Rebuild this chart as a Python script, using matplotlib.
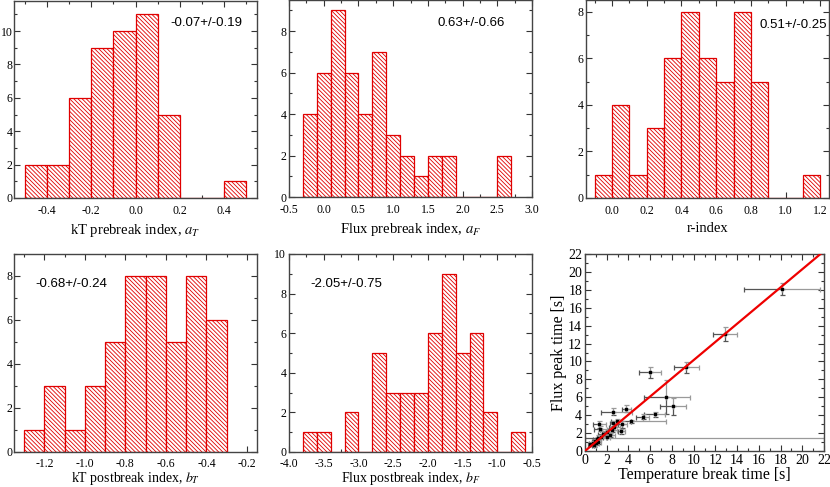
import matplotlib
matplotlib.use("Agg")
import matplotlib.pyplot as plt
import numpy as np
from matplotlib.ticker import MultipleLocator, AutoMinorLocator, FormatStrFormatter

plt.rcParams['font.family'] = ['Liberation Serif', 'DejaVu Serif']
plt.rcParams['mathtext.fontset'] = 'stix'
plt.rcParams['hatch.linewidth'] = 0.6
plt.rcParams['hatch.color'] = '#ff2020'

# ---- data ----
kt_pre_edges = [-0.5, -0.4, -0.3, -0.2, -0.1, 0.0, 0.1, 0.2, 0.3, 0.4, 0.5]
kt_pre_counts = [2, 2, 6, 9, 10, 11, 5, 0, 0, 1]

flux_pre_edges = [-0.3, -0.1, 0.1, 0.3, 0.5, 0.7, 0.9, 1.1, 1.3, 1.5, 1.7, 1.9, 2.1, 2.3, 2.5, 2.7]
flux_pre_counts = [4, 6, 9, 6, 4, 7, 3, 2, 1, 2, 2, 0, 0, 0, 2]

r_edges = [-0.1, 0.0, 0.1, 0.2, 0.3, 0.4, 0.5, 0.6, 0.7, 0.8, 0.9, 1.0, 1.1, 1.2]
r_counts = [1, 4, 1, 3, 6, 8, 6, 5, 8, 5, 0, 0, 1]

kt_post_edges = [-1.3, -1.2, -1.1, -1.0, -0.9, -0.8, -0.7, -0.6, -0.5, -0.4, -0.3]
kt_post_counts = [1, 3, 1, 3, 5, 8, 8, 5, 8, 6]

flux_post_edges = [-3.8, -3.6, -3.4, -3.2, -3.0, -2.8, -2.6, -2.4, -2.2, -2.0, -1.8, -1.6, -1.4, -1.2, -1.0, -0.8, -0.6]
flux_post_counts = [1, 1, 0, 2, 0, 5, 3, 3, 3, 6, 9, 5, 6, 2, 0, 1]

# scatter: temperature break time vs flux peak time
t_break = [18.1, 12.9, 9.3, 6.0, 7.5, 8.1, 6.4, 5.3, 3.8, 2.6, 4.2, 3.4, 3.3, 2.9, 2.6, 1.3, 1.4,
           2.7, 2.5, 2.0, 1.7, 2.3, 2.0, 1.5, 1.2, 1.1, 0.9, 1.0, 0.7, 0.5, 0.8, 1.2]
t_peak = [18.1, 13.1, 9.35, 8.8, 6.0, 5.0, 4.1, 3.85, 4.7, 4.4, 3.3, 3.0, 2.2, 3.3, 3.1, 3.0, 2.5,
          2.7, 2.4, 2.1, 1.9, 1.8, 1.6, 1.6, 1.5, 1.3, 1.1, 0.9, 0.9, 0.8, 0.7, 1.0]
t_break_err_lo = [3.5, 1.1, 1.1, 1.0, 2.1, 1.2, 1.0, 0.6, 0.4, 1.1, 1.2, 0.4, 0.3, 0.5, 0.3, 0.6, 0.6,
                  0.5, 0.4, 0.4, 0.5, 0.5, 0.3, 0.4, 1.2, 0.4, 0.3, 0.3, 0.3, 0.2, 0.2, 0.3]
t_break_err_hi = [3.5, 1.1, 1.2, 1.0, 2.2, 1.2, 1.0, 0.6, 0.4, 1.7, 3.3, 0.5, 0.4, 0.5, 0.3, 0.6, 0.6,
                  0.5, 0.4, 0.5, 0.5, 0.5, 0.3, 0.4, 20.8, 0.4, 0.3, 0.3, 0.3, 0.3, 0.2, 0.3]
t_peak_err = [0.7, 0.8, 0.6, 0.6, 1.9, 0.95, 0.25, 0.25, 0.4, 0.4, 0.2, 0.4, 0.3, 0.3, 0.3, 0.4, 0.3,
              0.3, 0.3, 0.3, 0.3, 0.2, 0.2, 0.2, 0.3, 0.3, 0.2, 0.2, 0.2, 0.2, 0.2, 0.2]
fit_slope = 1.015
fit_intercept = 0.0

W, H = 830, 487
fig = plt.figure(figsize=(W / 100, H / 100), dpi=100)


def ax_px(l, t, r, b):
    return fig.add_axes([l / W, 1 - b / H, (r - l) / W, (b - t) / H])


def style(ax, xmaj, ymaj, fs=8.5, ypad=2, xpad=5):
    ax.xaxis.set_major_locator(MultipleLocator(xmaj))
    ax.yaxis.set_major_locator(MultipleLocator(ymaj))
    ax.xaxis.set_minor_locator(AutoMinorLocator(2))
    ax.yaxis.set_minor_locator(AutoMinorLocator(2))
    ax.tick_params(which='both', direction='in', top=True, right=True,
                   labelsize=fs, colors='#333333', labelcolor='black', width=0.8)
    ax.tick_params(which='major', length=4)
    ax.tick_params(which='minor', length=2)
    ax.tick_params(axis='x', which='major', pad=xpad)
    ax.tick_params(axis='y', which='major', pad=ypad)
    for s in ax.spines.values():
        s.set_color('#444444')
        s.set_linewidth(1.0)


def hist(ax, edges, counts):
    edges = np.asarray(edges)
    ax.bar(edges[:-1], counts, width=np.diff(edges), align='edge',
           facecolor='white', edgecolor='#e00000', linewidth=0.9, hatch='\\' * 8, zorder=2)


annot_font = dict(family='Liberation Sans', fontsize=9.5)
label_fs = 10.5

# panel 1
ax = ax_px(14, 1, 257, 198)
hist(ax, kt_pre_edges, kt_pre_counts)
ax.set_xlim(-0.55, 0.55)
ax.set_ylim(0, 11.8)
style(ax, 0.2, 2, ypad=1)
ax.set_xticks([-0.4, -0.2, 0.0, 0.2, 0.4])
ax.xaxis.set_major_formatter(FormatStrFormatter('%.1f'))
ax.set_xlabel('kT prebreak index, $a_T$', fontsize=label_fs, labelpad=4)
ax.text(0.94, 0.89, '-0.07+/-0.19', transform=ax.transAxes, ha='right', va='center', **annot_font)

# panel 2
ax = ax_px(289, 0, 532, 197)
hist(ax, flux_pre_edges, flux_pre_counts)
ax.set_xlim(-0.5, 3.0)
ax.set_ylim(0, 9.5)
style(ax, 0.5, 2)
ax.xaxis.set_major_formatter(FormatStrFormatter('%.1f'))
ax.set_xlabel('Flux prebreak index, $a_F$', fontsize=label_fs, labelpad=4)
ax.text(0.89, 0.885, '0.63+/-0.66', transform=ax.transAxes, ha='right', va='center', **annot_font)

# panel 3
ax = ax_px(586, 0, 829, 198)
hist(ax, r_edges, r_counts)
ax.set_xlim(-0.15, 1.25)
ax.set_ylim(0, 8.5)
style(ax, 0.2, 2)
ax.set_xticks([0.0, 0.2, 0.4, 0.6, 0.8, 1.0, 1.2])
ax.xaxis.set_major_formatter(FormatStrFormatter('%.1f'))
ax.set_xlabel('r-index', fontsize=label_fs, labelpad=4)
ax.text(0.99, 0.875, '0.51+/-0.25', transform=ax.transAxes, ha='right', va='center', **annot_font)

# panel 4
ax = ax_px(14, 254, 257, 452)
hist(ax, kt_post_edges, kt_post_counts)
ax.set_xlim(-1.35, -0.15)
ax.set_ylim(0, 9)
style(ax, 0.2, 2, ypad=1, xpad=4)
ax.set_xticks([-1.2, -1.0, -0.8, -0.6, -0.4, -0.2])
ax.xaxis.set_major_formatter(FormatStrFormatter('%.1f'))
ax.set_xlabel('kT postbreak index, $b_T$', fontsize=10, labelpad=0)
ax.text(0.09, 0.85, '-0.68+/-0.24', transform=ax.transAxes, ha='left', va='center', **annot_font)

# panel 5
ax = ax_px(289, 254, 532, 452)
hist(ax, flux_post_edges, flux_post_counts)
ax.set_xlim(-4.0, -0.5)
ax.set_ylim(0, 10)
style(ax, 0.5, 2, xpad=4)
ax.xaxis.set_major_formatter(FormatStrFormatter('%.1f'))
ax.set_xlabel('Flux postbreak index, $b_F$', fontsize=10, labelpad=0)
ax.text(0.09, 0.85, '-2.05+/-0.75', transform=ax.transAxes, ha='left', va='center', **annot_font)

# panel 6 scatter
ax = ax_px(585, 254, 824, 451)
tb = np.asarray(t_break)
tp = np.asarray(t_peak)
lo = np.asarray(t_break_err_lo)
hi = np.asarray(t_break_err_hi)
ye = np.asarray(t_peak_err)
ax.errorbar(tb, tp, xerr=[lo, np.zeros_like(hi)], yerr=[ye, np.zeros_like(ye)], fmt='none',
            ecolor='#555555', elinewidth=0.9, capsize=1.8, capthick=0.9, zorder=2)
ax.errorbar(tb, tp, xerr=[np.zeros_like(lo), hi], yerr=[np.zeros_like(ye), ye], fmt='none',
            ecolor='#9a9a9a', elinewidth=0.9, capsize=1.8, capthick=0.9, zorder=2)
ax.plot(tb, tp, 's', color='black', markersize=1.6, zorder=3)
xf = np.array([0, 22 / fit_slope])
ax.plot(xf, fit_slope * xf + fit_intercept, color='#ee0000', linewidth=1.6, zorder=4)
ax.set_xlim(0, 22)
ax.set_ylim(0, 22)
style(ax, 2, 2, fs=10, xpad=2)
ax.set_xlabel('Temperature break time [s]', fontsize=11.5, labelpad=0)
ax.set_ylabel('Flux peak time [s]', fontsize=11.5, labelpad=1)

fig.savefig('out.png', dpi=100)
